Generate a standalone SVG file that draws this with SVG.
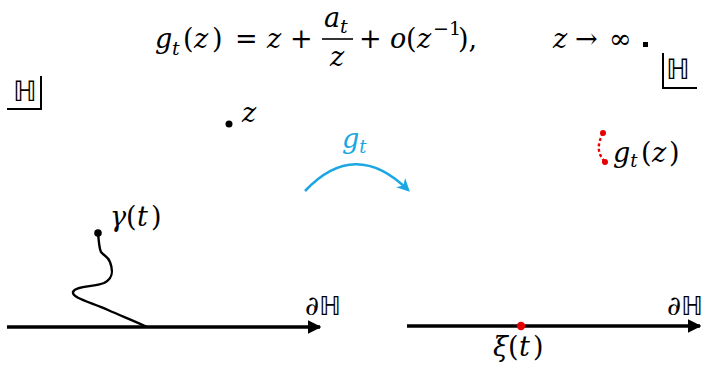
<svg xmlns="http://www.w3.org/2000/svg" width="710" height="366" viewBox="0 0 710 366">
<style>
.m{font-family:"DejaVu Serif","Liberation Serif",serif;font-size:27px;fill:#000}
.i{font-style:italic}
.bb{font-family:"DejaVu Sans",sans-serif;font-size:28px;fill:#000}
.ax{stroke:#000;stroke-width:3.4;fill:none}
.thin{stroke:#000;stroke-width:2;fill:none}
</style>
<defs>
<marker id="ah" viewBox="0 0 10 10" refX="9" refY="5" markerWidth="4" markerHeight="4" orient="auto" markerUnits="strokeWidth">
<path d="M0,0 L10,5 L0,10 Z" fill="#000"/>
</marker>
<marker id="ahb" viewBox="0 0 10 10" refX="8" refY="5" markerWidth="5" markerHeight="5" orient="auto" markerUnits="strokeWidth">
<path d="M0,0 L10,5 L0,10 L3,5 Z" fill="#1aa7e4"/>
</marker>
</defs>
<g id="formula">
<text class="m" y="48"><tspan x="155" class="i">g</tspan><tspan x="172" y="55" class="i" font-size="19">t</tspan><tspan x="183" y="48">(</tspan><tspan x="194" class="i">z</tspan><tspan x="212">)</tspan><tspan x="235">=</tspan><tspan x="267" class="i">z</tspan><tspan x="290">+</tspan></text>
<text class="m i" x="324" y="27">a<tspan font-size="19" dy="6">t</tspan></text>
<line x1="322" y1="39" x2="353" y2="39" stroke="#000" stroke-width="1.6"/>
<text class="m i" x="330" y="66">z</text>
<text class="m" y="48"><tspan x="359">+</tspan><tspan x="390" class="i">o</tspan><tspan x="406">(</tspan><tspan x="417" class="i">z</tspan><tspan x="433" font-size="19" y="35">−1</tspan><tspan x="458" y="48">),</tspan></text>
<text class="m" y="48"><tspan x="553" class="i">z</tspan><tspan x="575">→</tspan><tspan x="609">∞</tspan></text>
<rect x="643" y="42" width="5" height="5" fill="#000"/>
</g>
<g id="halfplane-left">
<text class="bb" x="13" y="101">ℍ</text>
<path class="thin" d="M7,109 H41 V76"/>
</g>
<g id="halfplane-right">
<text class="bb" x="666" y="79">ℍ</text>
<path class="thin" d="M663,53 V88 H697"/>
</g>
<g id="point-z">
<circle cx="229" cy="124" r="3.5" fill="#000"/>
<text class="m i" x="242" y="122" font-size="24">z</text>
</g>
<g id="map-label">
<text class="m i" x="342" y="148" font-size="26" style="fill:#1aa7e4">g<tspan font-size="18" dy="5">t</tspan></text>
</g>
<g id="connectors">
<path d="M305,191 Q355,138 408,190" stroke="#1aa7e4" stroke-width="2.6" fill="none" marker-end="url(#ahb)"/>
<line class="ax" x1="7" y1="327" x2="320" y2="327" marker-end="url(#ah)"/>
<line class="ax" x1="407" y1="326" x2="700" y2="326" stroke-width="3" marker-end="url(#ah)"/>
</g>
<g id="curve-gamma">
<path d="M98,233 C99,242 99,248 101,252 C104,256 108,256 110,262 C113,270 114,278 104,283 C94,287 75,286 73,292 C72,298 90,302 108,310 C124,317 137,322 147,327" stroke="#000" stroke-width="2.4" fill="none"/>
<circle cx="98" cy="233" r="3.8" fill="#000"/>
<text class="m" x="110" y="226" font-size="26"><tspan class="i">γ</tspan><tspan x="126">(</tspan><tspan x="137" class="i">t</tspan><tspan x="151">)</tspan></text>
</g>
<g id="image-curve">
<path d="M603,133 C598,143 596,152 605,162" stroke="#e60000" stroke-width="2.4" stroke-dasharray="3,2.5" fill="none"/>
<circle cx="603" cy="133" r="3" fill="#e60000"/>
<circle cx="605" cy="162" r="3" fill="#e60000"/>
<text class="m" x="613" y="162" font-size="26"><tspan class="i">g</tspan><tspan class="i" font-size="18" dy="5">t</tspan><tspan x="641" dy="-5">(</tspan><tspan x="652" class="i">z</tspan><tspan x="669">)</tspan></text>
</g>
<g id="boundary-labels">
<text class="m" x="305" y="315" font-size="26"><tspan class="i">∂</tspan><tspan class="bb" style="font-size:26px">ℍ</tspan></text>
<text class="m" x="667" y="315" font-size="26"><tspan class="i">∂</tspan><tspan class="bb" style="font-size:26px">ℍ</tspan></text>
</g>
<g id="xi">
<circle cx="521" cy="326" r="4.2" fill="#e60000"/>
<text class="m" x="493" y="356" font-size="26"><tspan class="i">ξ</tspan><tspan x="508">(</tspan><tspan x="519" class="i">t</tspan><tspan x="533">)</tspan></text>
</g>
</svg>
